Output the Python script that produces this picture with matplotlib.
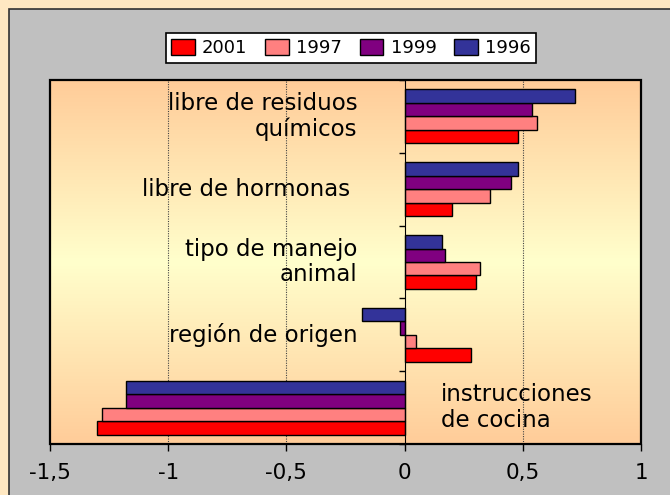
import matplotlib
matplotlib.use('Agg')
import matplotlib.pyplot as plt
import numpy as np
from matplotlib.patches import Rectangle
from matplotlib.colors import LinearSegmentedColormap
from matplotlib import font_manager

# data (categories top to bottom)
categories = ['libre de residuos\nquímicos', 'libre de hormonas ', 'tipo de manejo\nanimal',
              'región de origen', 'instrucciones\nde cocina']
years = ['2001', '1997', '1999', '1996']
v2001 = [0.48, 0.20, 0.30, 0.28, -1.30]
v1997 = [0.56, 0.36, 0.32, 0.05, -1.28]
v1999 = [0.54, 0.45, 0.17, -0.02, -1.18]
v1996 = [0.72, 0.48, 0.16, -0.18, -1.18]
series = [v2001, v1997, v1999, v1996]
colors = ['#FF0000', '#FF8080', '#800080', '#333399']
xticks = [-1.5, -1, -0.5, 0, 0.5, 1]
xticklabels = ['-1,5', '-1', '-0,5', '0', '0,5', '1']

# narrow font for the legend if there is one
names = {f.name for f in font_manager.fontManager.ttflist}
leg_family = 'DejaVu Sans'
leg_size = 13
for cand in ['DejaVu Sans Condensed', 'Liberation Sans Narrow']:
    if cand in names:
        leg_family = cand
        leg_size = 15
        break

fig = plt.figure(figsize=(6.7, 4.95), dpi=100)
fig.patch.set_facecolor('#FFE8C2')
# grey chart panel
fig.add_artist(Rectangle((9/670, -0.05), 1.1, 1 - 9/495 + 0.05, transform=fig.transFigure,
                         facecolor='#C0C0C0', edgecolor='#333333', lw=1.2, zorder=0))

ax = fig.add_axes([50/670, 1 - 444/495, 591/670, 364/495])
ax.set_facecolor('none')

# vertical gradient background
cmap = LinearSegmentedColormap.from_list('g', ['#FFCC99', '#FFFFCC', '#FFCC99'])
grad = np.linspace(0, 1, 256).reshape(-1, 1)
ax.imshow(grad, cmap=cmap, aspect='auto', extent=[0, 1, 0, 1], transform=ax.transAxes, zorder=0)

y = np.arange(len(categories))
h = 0.185
offsets = [1.5, 0.5, -0.5, -1.5]
for vals, col, yr, off in zip(series, colors, years, offsets):
    ax.barh(y + off * h, vals, height=h, color=col, edgecolor='black', lw=1.0, label=yr, zorder=3)

ax.set_xlim(-1.5, 1)
ax.set_ylim(len(categories) - 0.5, -0.5)

ax.set_xticks(xticks)
ax.set_xticklabels(xticklabels, fontsize=15.5)
ax.tick_params(axis='x', direction='out', length=5, width=1, pad=9, colors='black')
for xv in xticks:
    if xv not in (-1.5, 0, 1):
        ax.axvline(xv, color='#444444', ls=(0, (1, 1.2)), lw=0.8, zorder=1)

# category axis at x=0
ax.spines['left'].set_position(('data', 0))
ax.spines['left'].set_zorder(4)
ax.set_yticks(np.arange(len(categories) + 1) - 0.5)
ax.set_yticklabels([])
ax.tick_params(axis='y', direction='out', length=4, width=1)
ax.spines['right'].set_visible(False)
ax.spines['top'].set_visible(False)
ax.spines['bottom'].set_visible(False)
ax.add_patch(Rectangle((0, 0), 1, 1, transform=ax.transAxes, fill=False,
                       edgecolor='black', lw=1.6, zorder=5, clip_on=False))

for i, lab in enumerate(categories):
    if i == len(categories) - 1:
        ax.text(0.153, i, lab, ha='left', va='center', fontsize=16.5, linespacing=1.15, zorder=4)
    else:
        ax.text(-0.2, i, lab, ha='right', va='center', fontsize=16.5, linespacing=1.15,
                multialignment='right', zorder=4)

leg = fig.legend(loc='center', bbox_to_anchor=(351/670, 1 - 48/495), ncol=4,
                 prop={'family': leg_family, 'size': leg_size},
                 frameon=True, fancybox=False, edgecolor='black', framealpha=1,
                 handlelength=1.3, handleheight=1.0, handletextpad=0.4, columnspacing=1.0,
                 borderpad=0.3)
leg.get_frame().set_linewidth(1.2)

fig.savefig('out.png', dpi=100, facecolor=fig.get_facecolor())
